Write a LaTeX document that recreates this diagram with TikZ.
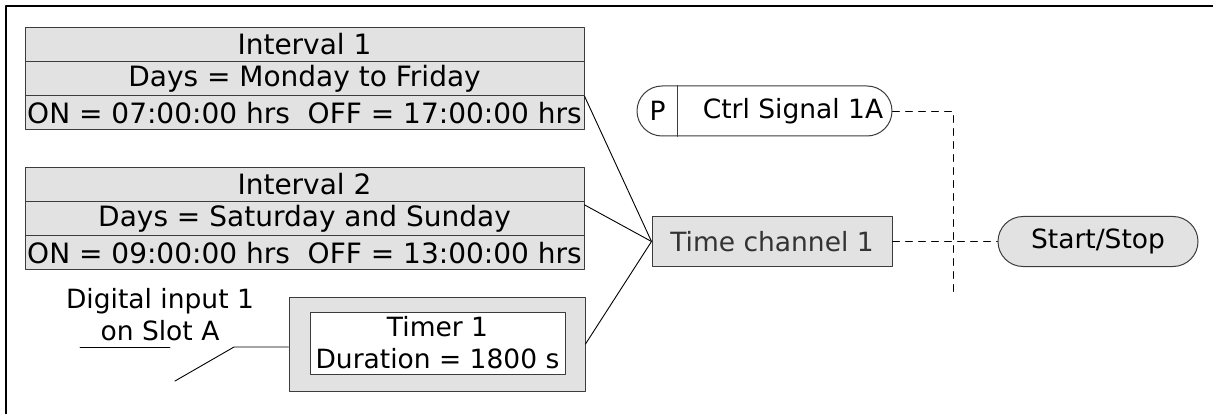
\documentclass[tikz,border=0pt]{standalone}
\usepackage{fontspec}
\setmainfont{DejaVu Sans}
\usepackage{tikz}
\definecolor{boxgray}{HTML}{E2E2E2}
\definecolor{edgegray}{HTML}{3C3C3C}
\definecolor{textgray}{HTML}{333333}

\begin{document}
\begin{tikzpicture}[x=1pt,y=-1pt,line cap=round,line join=round,
  every node/.style={font=\fontsize{26.5}{32}\selectfont,inner sep=0pt},
  row/.style={draw=edgegray,line width=1pt,fill=boxgray,minimum width=559pt,minimum height=34.3pt,
    font=\fontsize{28}{32}\selectfont},
  pill/.style={draw=edgegray,line width=1pt,rounded corners=25pt,minimum height=50pt},
  link/.style={line width=0.9pt},
  sig/.style={line width=0.9pt,dash pattern=on 7pt off 6pt}]
  \useasboundingbox (0,0) rectangle (1213,414);
  \draw[line width=1.2pt] (6,414) -- (6,6) -- (1213,6);

  \node[row] (int1a) at (304.5,44.2) {Interval 1};
  \node[row] (int1b) at (304.5,78.5) {Days = Monday to Friday};
  \node[row] (int1c) at (304.5,112.8) {ON = 07:00:00 hrs~~OFF = 17:00:00 hrs};

  \node[row] (int2a) at (304.5,184.2) {Interval 2};
  \node[row] (int2b) at (304.5,218.5) {Days = Saturday and Sunday};
  \node[row] (int2c) at (304.5,252.8) {ON = 09:00:00 hrs~~OFF = 13:00:00 hrs};

  \node[draw=edgegray,line width=1pt,fill=boxgray,minimum width=296pt,minimum height=94pt] (timer) at (437,344) {};
  \node[draw=edgegray,line width=0.8pt,fill=white,minimum width=255pt,minimum height=62pt,align=center] (timerin) at (437.5,343) {Timer 1\\Duration = 1800 s};

  \node[align=center] (dig) at (160,315) {Digital input 1\\on Slot A};
  \coordinate (swa) at (80,347);
  \coordinate (swb) at (170,347);
  \coordinate (swc) at (175,381);
  \coordinate (swd) at (234,347);
  \draw[link] (swa) -- (swb);
  \draw[link] (swc) -- (swd) -- (swd -| timer.west);

  \node[draw=edgegray,line width=1pt,fill=boxgray,text=textgray,minimum width=240pt,minimum height=50pt] (chan) at (772,241.5) {Time channel 1};

  \node[pill,fill=white,minimum width=255pt] (ctrl) at (764.5,111) {};
  \node (ctrlp) at (657.5,111) {P};
  \node (ctrltxt) at (793,111) {Ctrl Signal 1A};
  \draw[edgegray,line width=0.8pt] ([xshift=41pt]ctrl.north west) -- ([xshift=41pt]ctrl.south west);

  \node[pill,fill=boxgray,minimum width=200pt] (start) at (1098,241.5) {Start/Stop};

  \draw[link] (int1b.south east) -- (chan.west);
  \draw[link] ([yshift=-4pt]int2b.north east) -- (chan.west);
  \draw[link] (timer.east) -- (chan.west);

  \coordinate (bend) at (953,111);
  \coordinate (tail) at (953,297);
  \draw[sig] (ctrl.east) -- (bend) -- (tail);
  \draw[sig] (chan.east) -- (start.west);
\end{tikzpicture}
\end{document}
